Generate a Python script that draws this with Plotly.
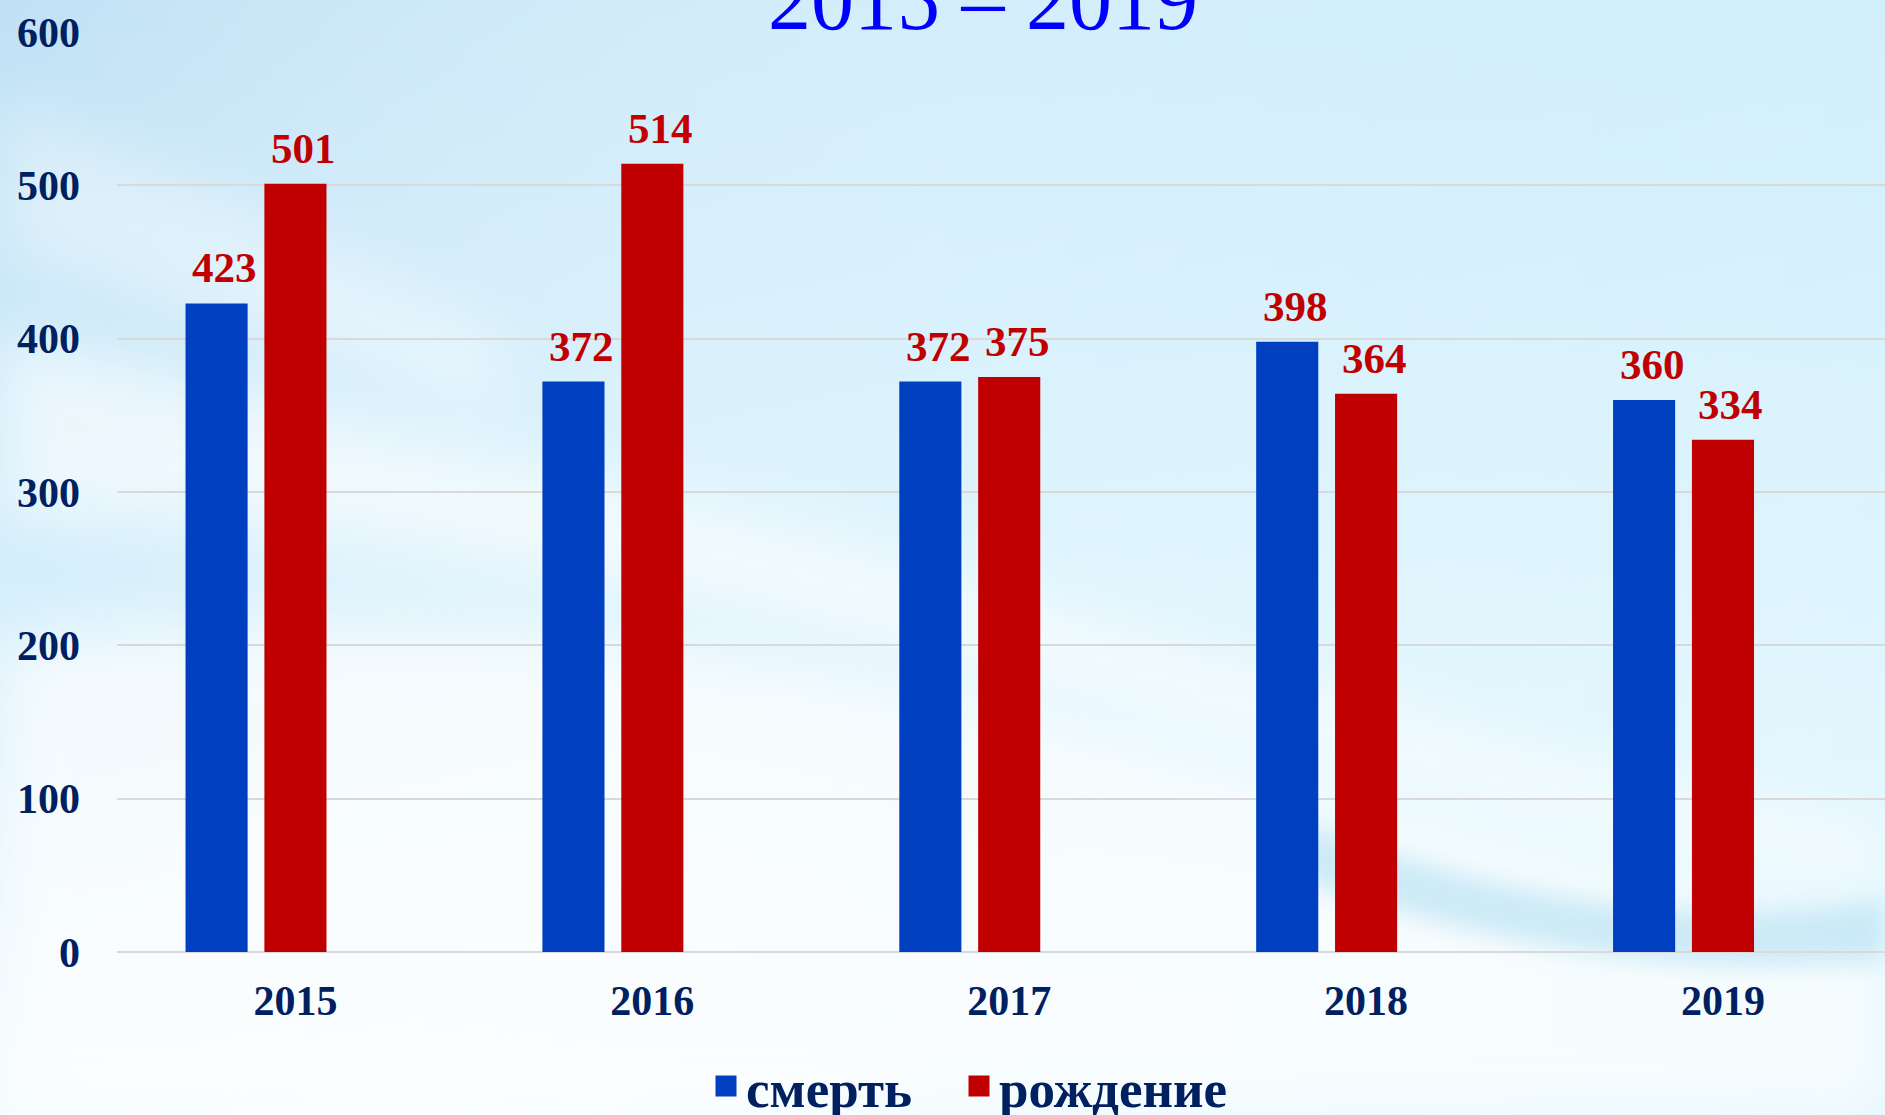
import base64
import plotly.graph_objects as go

years = ["2015", "2016", "2017", "2018", "2019"]
deaths = [423, 372, 372, 398, 360]
births = [501, 514, 375, 364, 334]
series_names = ["смерть", "рождение"]
title_text = "2015 – 2019"
y_ticks = [0, 100, 200, 300, 400, 500, 600]

BLUE = "#0040c0"
RED = "#c00000"
NAVY = "#002060"
FONT = "Liberation Serif"

W, H = 1885, 1115
ML, MR, MT, MB = 117, 0, 32, 163
PW, PH = W - ML - MR, H - MT - MB
CAT_PX = 357  # pixels per category

svg = f'''<svg xmlns="http://www.w3.org/2000/svg" width="{W}" height="{H}" viewBox="0 0 {W} {H}">
<defs>
<linearGradient id="g1" x1="0" y1="0" x2="0.35" y2="1">
<stop offset="0" stop-color="#c0e1f5"/>
<stop offset="0.45" stop-color="#d3eefb"/>
<stop offset="0.8" stop-color="#eef9fd"/>
<stop offset="1" stop-color="#fbfeff"/>
</linearGradient>
<linearGradient id="g2" x1="0" y1="0" x2="1" y2="0">
<stop offset="0" stop-color="#ffffff" stop-opacity="0.0"/>
<stop offset="0.5" stop-color="#e0f6fe" stop-opacity="0.5"/>
<stop offset="1" stop-color="#d5f2fd" stop-opacity="0.6"/>
</linearGradient>
<filter id="b1"><feGaussianBlur stdDeviation="28"/></filter>
<filter id="b2"><feGaussianBlur stdDeviation="12"/></filter>
</defs>
<rect width="{W}" height="{H}" fill="url(#g1)"/>
<rect width="{W}" height="{H}" fill="url(#g2)"/>
<path d="M0,330 C300,420 600,470 900,560 C1200,650 1500,760 1885,830 L1885,880 C1500,820 1200,720 900,640 C600,560 300,520 0,520 Z" fill="#ffffff" opacity="0.6" filter="url(#b1)"/>
<path d="M0,640 C400,610 800,650 1200,760 C1500,840 1700,900 1885,920 L1885,1115 L0,1115 Z" fill="#ffffff" opacity="0.65" filter="url(#b1)"/>
<path d="M1300,820 C1500,900 1700,930 1885,900 L1885,960 C1700,980 1500,950 1300,880 Z" fill="#aadcf0" opacity="0.55" filter="url(#b2)"/>
<path d="M0,100 C200,180 350,260 500,330 L500,420 C350,360 200,300 0,260 Z" fill="#ffffff" opacity="0.35" filter="url(#b1)"/>
</svg>'''
bg_uri = "data:image/svg+xml;base64," + base64.b64encode(svg.encode("utf-8")).decode("ascii")

fig = go.Figure()

BAR_W = 0.174
OFFSETS = [-0.308, -0.087]
for nm, vals, col, off in zip(series_names, [deaths, births], [BLUE, RED], OFFSETS):
    fig.add_trace(go.Bar(
        x=years, y=vals, name=nm, marker=dict(color=col, line=dict(width=0)),
        width=BAR_W, offset=off, showlegend=False,
    ))
    # data labels above each bar (category axis -> numeric index positions)
    for i, v in enumerate(vals):
        fig.add_annotation(
            x=i, y=v, xref="x", yref="y", text=str(v), showarrow=False,
            xanchor="center", yanchor="bottom",
            xshift=(off + BAR_W / 2) * CAT_PX + 8, yshift=10,
            font=dict(family=FONT, size=43, color=RED, weight="bold"),
        )

# legend entries with large square swatches, one legend per series
legend_ids = ["legend", "legend2"]
legend_x_px = [706, 959]
for nm, col, lid in zip(series_names, [BLUE, RED], legend_ids):
    fig.add_trace(go.Scatter(
        x=[None], y=[None], mode="markers", name=nm, legend=lid,
        marker=dict(symbol="square", size=16, color=col, line=dict(width=6, color=col)),
        showlegend=True,
    ))

fig.add_annotation(
    text=title_text, xref="paper", yref="paper", x=(983 - ML) / PW, y=1 + (MT - 26) / PH,
    xanchor="center", yanchor="bottom", yshift=-24, showarrow=False,
    font=dict(family=FONT, size=86, color="#0000ff"),
)

fig.add_layout_image(
    source=bg_uri, xref="paper", yref="paper", x=-ML / PW, y=1 + MT / PH,
    sizex=W / PW, sizey=H / PH, xanchor="left", yanchor="top",
    sizing="stretch", layer="below",
)

legend_common = dict(
    orientation="h", xanchor="left", y=-(1086 - (MT + PH)) / PH, yanchor="middle",
    font=dict(family=FONT, size=53, color=NAVY, weight="bold"),
    bgcolor="rgba(0,0,0,0)", itemsizing="trace",
)

fig.update_layout(
    width=W, height=H,
    margin=dict(l=ML, r=MR, t=MT, b=MB, autoexpand=False),
    paper_bgcolor="#ffffff", plot_bgcolor="rgba(0,0,0,0)",
    barmode="overlay",
    font=dict(family=FONT, color=NAVY),
    legend=dict(x=(legend_x_px[0] - ML) / PW, **legend_common),
    legend2=dict(x=(legend_x_px[1] - ML) / PW, **legend_common),
    xaxis=dict(
        type="category", range=[-0.5, 4.454], showgrid=False, showline=False, zeroline=False,
        ticks="", ticklabelstandoff=20,
        tickfont=dict(family=FONT, size=42, color=NAVY, weight="bold"),
    ),
    yaxis=dict(
        range=[0, 600], tickvals=y_ticks, showgrid=True, gridcolor="#d9d9d9", gridwidth=2,
        zeroline=True, zerolinecolor="#d9d9d9", zerolinewidth=2, showline=False, ticks="",
        ticklabelstandoff=36,
        tickfont=dict(family=FONT, size=42, color=NAVY, weight="bold"),
    ),
)

fig.write_html("out.html", config={"displayModeBar": False},
               post_script="document.body.style.margin='0';")
